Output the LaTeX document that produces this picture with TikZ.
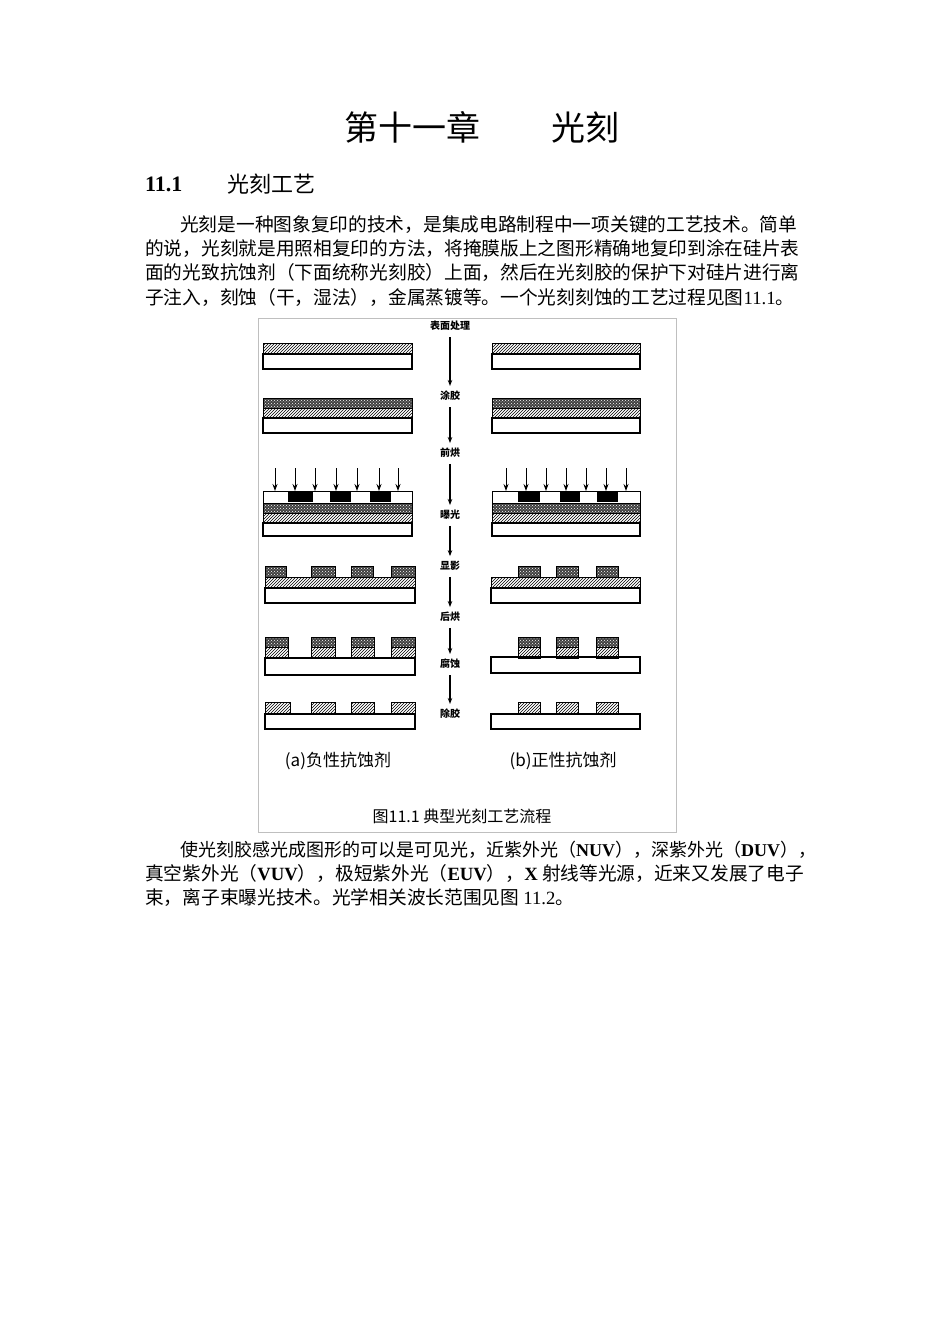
\documentclass[tikz,border=0pt]{standalone}
\usepackage{fontspec}
\setmainfont{Liberation Serif}
\newfontfamily\cjk{Noto Sans CJK SC}
\usetikzlibrary{patterns,arrows.meta}
\tikzset{
 hat/.style={draw,line width=1pt,pattern=north east lines},
 sub/.style={draw,line width=1.3pt,fill=white},
 lab/.style={font=\cjk\fontsize{10}{10}\selectfont\bfseries,inner sep=1pt,fill=white},
 flow/.style={line width=1.2pt,-{Stealth[length=6pt]}},
 txt/.style={anchor=base west,inner sep=0pt,font=\cjk\fontsize{18.7}{19}\selectfont},
}
\newcommand{\dotlayer}[4]{\fill[black!75] (#1,#2) rectangle (#3,#4);
 \fill[pattern=crosshatch dots,pattern color=white] (#1,#2) rectangle (#3,#4);
 \draw[line width=1pt] (#1,#2) rectangle (#3,#4);}
\begin{document}
\begin{tikzpicture}[x=1pt,y=-1pt]
\useasboundingbox[fill=white] (0,0) rectangle (950,1344);
\node[font=\cjk\fontsize{34}{34}\selectfont] (title) at (482,127) {第十一章\hspace{72pt}光刻};
\node[anchor=west,inner sep=0pt,font=\bfseries\fontsize{22}{22}\selectfont] (sec) at (145,184) {11.1};
\node[anchor=west,inner sep=0pt,font=\cjk\fontsize{22}{22}\selectfont] (sect) at (227,184) {光刻工艺};
\node[txt] (p1) at (180,231) {光刻是一种图象复印的技术，是集成电路制程中一项关键的工艺技术。简单};
\node[txt] (p2) at (145,255) {的说，光刻就是用照相复印的方法，将掩膜版上之图形精确地复印到涂在硅片表};
\node[txt] (p3) at (145,279) {面的光致抗蚀剂（下面统称光刻胶）上面，然后在光刻胶的保护下对硅片进行离};
\node[txt] (p4) at (145,304) {子注入，刻蚀（干，湿法），金属蒸镀等。一个光刻刻蚀的工艺过程见图{\rmfamily 11.1}。};
\node[txt,font=\cjk\fontsize{18}{19}\selectfont] (q1) at (180,856) {使光刻胶感光成图形的可以是可见光，近紫外光（{\rmfamily\bfseries NUV}），深紫外光（{\rmfamily\bfseries DUV}），};
\node[txt] (q2) at (145,880) {真空紫外光（{\rmfamily\bfseries VUV}），极短紫外光（{\rmfamily\bfseries EUV}），{\rmfamily\bfseries X} 射线等光源，近来又发展了电子};
\node[txt] (q3) at (145,904) {束，离子束曝光技术。光学相关波长范围见图 {\rmfamily 11.2}。};
% figure frame
\draw[black!25,line width=0.8pt] (258,318) rectangle (676,832);
% row1
\foreach \a/\b in {263/412,492/640}{
 \draw[sub] (\a,354) rectangle (\b,369);
 \draw[hat] (\a,343) rectangle (\b,354);}
% row2
\foreach \a/\b in {263/412,492/640}{
 \draw[sub] (\a,418) rectangle (\b,433);
 \draw[hat] (\a,408) rectangle (\b,418);
 \dotlayer{\a}{398}{\b}{408}}
% row3
\foreach \a/\b in {263/412,492/640}{
 \draw[sub] (\a,523) rectangle (\b,536);
 \draw[hat] (\a,513) rectangle (\b,523);
 \dotlayer{\a}{503}{\b}{513}
 \draw[line width=1pt,fill=white] (\a,491) rectangle (\b,503);}
\foreach \a/\b in {288/313,330/351,370/391,518/540,560/580,597/618}{
 \fill[black] (\a,492) rectangle (\b,502);}
\foreach \x in {275,295,315,336,357,379,398,506,526,546,566,586,606,626}{
 \draw[line width=1pt,-{Stealth[length=7pt,width=5pt]}] (\x,468) -- (\x,491);}
% row4
\draw[sub] (265,588) rectangle (415,603);
\draw[hat] (265,577) rectangle (415,588);
\draw[sub] (491,588) rectangle (640,603);
\draw[hat] (491,577) rectangle (640,588);
\foreach \a/\b in {265/286,311/335,351/373,391/415,518/540,556/578,596/618}{
 \dotlayer{\a}{566}{\b}{577}}
% row5
\draw[sub] (265,658) rectangle (415,675);
\draw[sub] (491,657) rectangle (640,673);
\foreach \a/\b in {265/288,311/335,351/374,391/415,518/540,556/578,596/618}{
 \dotlayer{\a}{637}{\b}{647}
 \draw[hat] (\a,647) rectangle (\b,658);}
% row6
\draw[sub] (265,714) rectangle (415,729);
\draw[sub] (491,714) rectangle (640,729);
\foreach \a/\b in {265/290,311/335,351/374,391/415,518/540,556/578,596/618}{
 \draw[hat] (\a,702) rectangle (\b,714);}
% center flow
\node[lab] (s1) at (450,326) {表面处理};
\node[lab] (s2) at (450,396) {涂胶};
\node[lab] (s3) at (450,453) {前烘};
\node[lab] (s4) at (450,515) {曝光};
\node[lab] (s5) at (450,566) {显影};
\node[lab] (s6) at (450,617) {后烘};
\node[lab] (s7) at (450,664) {腐蚀};
\node[lab] (s8) at (450,714) {除胶};
\foreach \u/\v in {s1/s2,s2/s3,s3/s4,s4/s5,s5/s6,s6/s7,s7/s8}{
 \draw[flow] ([yshift=-5pt]\u.south) -- ([yshift=4pt]\v.north);}
\node[font=\cjk\fontsize{17}{17}\selectfont] (ca) at (338,761) {(a)负性抗蚀剂};
\node[font=\cjk\fontsize{17}{17}\selectfont] (cb) at (563,761) {(b)正性抗蚀剂};
\node[font=\cjk\fontsize{16}{16}\selectfont] (cap) at (462,816) {图11.1\ 典型光刻工艺流程};
\end{tikzpicture}
\end{document}
